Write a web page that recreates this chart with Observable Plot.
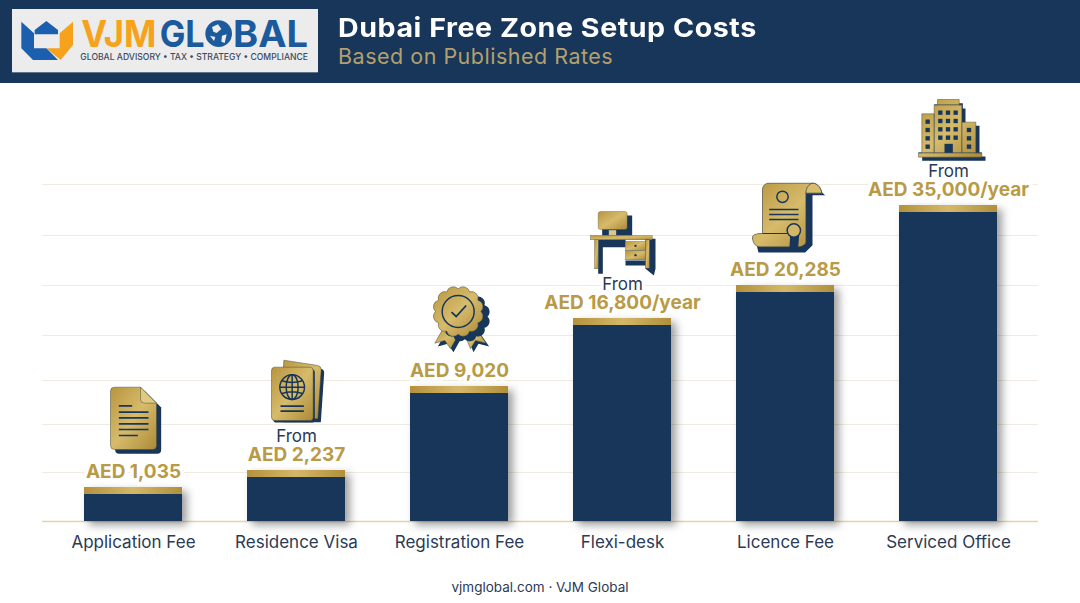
<!DOCTYPE html>
<html><head><meta charset="utf-8">
<script src="https://cdn.jsdelivr.net/npm/d3@7"></script>
<script src="https://cdn.jsdelivr.net/npm/@observablehq/plot@0.6"></script>
<style>
html,body{margin:0;padding:0;background:#fff;width:1080px;height:603px;overflow:hidden;font-family:Inter,sans-serif}
#head{position:absolute;left:0;top:0;width:1080px;height:83px;background:#17365a}
#logo{position:absolute;left:8px;top:5px}
#title{position:absolute;left:338px;top:12px;color:#fff;font:700 26px/32px Inter,sans-serif;letter-spacing:.5px;white-space:nowrap;transform:scaleX(1.1);transform-origin:left center}
#sub{position:absolute;left:338px;top:42px;color:#b3a06c;font:400 21.5px/28px Inter,sans-serif;letter-spacing:.5px;white-space:nowrap}
#chart{position:absolute;left:0;top:83px}
#cap{position:absolute;left:0;width:1080px;top:578px;text-align:center;color:#2b3a55;font:400 13.5px/18px Inter,sans-serif}
svg{display:block}
</style></head><body>
<div id="head">
<svg id="logo" width="315" height="72" viewBox="0 0 945 216">
<rect x="12" y="12" width="918" height="190" fill="#ececec"/>
<path d="M80 75L115 48L150 75V88H80Z" fill="#1c5fae"/>
<path d="M40 50L78 85V130H115L150 165H75L40 130Z" fill="#1c5fae"/>
<path d="M195 50V120L158 165L115 130H155V85Z" fill="#f6a21c"/>
<text x="220" y="125" font-family="Inter" font-weight="700" font-size="112" fill="#f6a21c" textLength="225" lengthAdjust="spacingAndGlyphs">VJM</text>
<text x="455" y="125" font-family="Inter" font-weight="700" font-size="112" fill="#1c5a9e" textLength="135" lengthAdjust="spacingAndGlyphs">GL</text>
<text x="675" y="125" font-family="Inter" font-weight="700" font-size="112" fill="#1c5a9e" textLength="225" lengthAdjust="spacingAndGlyphs">BAL</text>
<circle cx="632" cy="86" r="40" fill="#1c5a9e"/>
<path d="M612 66L630 58L640 72L626 84L616 80ZM642 92L656 88L650 114L640 110ZM606 92L622 96L618 108Z" fill="#ececec"/>
<text x="217" y="165" font-family="Inter" font-weight="500" font-size="27" fill="#3c4a60" textLength="683" lengthAdjust="spacingAndGlyphs">GLOBAL ADVISORY • TAX • STRATEGY • COMPLIANCE</text>
</svg>
<div id="title">Dubai Free Zone Setup Costs</div>
<div id="sub">Based on Published Rates</div>
</div>
<div id="chart"></div>
<div id="cap">vjmglobal.com · VJM Global</div>
<script>
const categories = ["Application Fee","Residence Visa","Registration Fee","Flexi-desk","Licence Fee","Serviced Office"];
const costs = [1035,2237,9020,16800,20285,35000];
const prefixes = ["","From","","From","","From"];
const suffixes = ["","","","/year","","/year"];
const gridCosts = [2096,5951,9706,14855,20285,29480,38860];

const navy="#17365a", text="#2b3a55", goldText="#b99a45";
// The reference's bars are not proportional to their values: its axis is compressed.
const compress = d3.scaleLinear().domain([0,...costs]).range([0,34,51,135,203,236,316]);

const grad=`<defs><linearGradient id="g" x1="0" y1="0" x2="1" y2="1"><stop offset="0" stop-color="#b8953f"/><stop offset=".5" stop-color="#d6bb6b"/><stop offset="1" stop-color="#ab8a38"/></linearGradient></defs>`;
const wrap=(w,h,body)=>"data:image/svg+xml;utf8,"+encodeURIComponent(`<svg xmlns="http://www.w3.org/2000/svg" viewBox="0 0 ${w} ${h}" width="${w}" height="${h}">${grad}${body}</svg>`);
const shape=(d,sx,sy)=>`<path d="${d}" fill="${navy}" transform="translate(${sx} ${sy})"/><path d="${d}" fill="url(#g)" stroke="#4a4a3a" stroke-width="1.5"/>`;
const L=(x1,y1,x2,y2,w=5)=>`<line x1="${x1}" y1="${y1}" x2="${x2}" y2="${y2}" stroke="${navy}" stroke-width="${w}"/>`;
const W=(x,y,s=13)=>`<rect x="${x}" y="${y}" width="${s}" height="${s}" fill="${navy}"/>`;

const docIcon=wrap(210,240,
 shape("M42 20H120L168 68V195a12 12 0 0 1-12 12H42a12 12 0 0 1-12-12V32a12 12 0 0 1 12-12Z",14,13)+
 `<path d="M120 20V56a12 12 0 0 0 12 12H168Z" fill="#e0c980" stroke="#4a4a3a" stroke-width="1.5"/>`+
 L(55,76,95,76)+L(55,95,144,95)+L(55,112,144,112)+L(55,130,144,130)+L(55,147,144,147)+L(55,165,112,165));
const passportIcon=wrap(225,225,
 shape("M70 14L172 30q10 2 10 12L172 190H60Z",9,10)+
 shape("M43 35H148a10 10 0 0 1 10 10V185a10 10 0 0 1-10 10H43a10 10 0 0 1-10-10V45a10 10 0 0 1 10-10Z",5,6)+
 `<g fill="none" stroke="${navy}" stroke-width="4.5"><circle cx="95" cy="95" r="37"/><ellipse cx="95" cy="95" rx="18" ry="37"/><path d="M95 58V132M58 95H132M64 76Q95 86 126 76M64 114Q95 104 126 114"/></g>`+
 L(60,152,130,152)+L(60,167,130,167));
const medalRosette="M166 93A20 20 0 0 0 157 59A20 20 0 0 0 132 34A20 20 0 0 0 98 25A20 20 0 0 0 64 34A20 20 0 0 0 39 59A20 20 0 0 0 30 93A20 20 0 0 0 39 127A20 20 0 0 0 64 152A20 20 0 0 0 98 161A20 20 0 0 0 132 152A20 20 0 0 0 157 127A20 20 0 0 0 166 93Z";
const medalIcon=wrap(225,240,
 shape("M55 140L28 188L58 180L75 205L100 160Z",9,10)+
 shape("M115 155L135 205L150 180L182 188L145 135Z",9,10)+
 shape(medalRosette,20,15)+
 `<circle cx="98" cy="93" r="48" fill="none" stroke="${navy}" stroke-width="4.5"/><path d="M78 95L92 108L122 75" fill="none" stroke="${navy}" stroke-width="5.5"/>`);
const deskIcon=wrap(225,225,
 `<path d="M50 30H140V90H50ZM38 100H120V125H52V205H38ZM180 100H210V190L205 210L180 190Z" fill="${navy}"/><path d="M120 165H190V180H120Z" fill="${navy}"/>`+
 `<rect x="38" y="18" width="87" height="54" rx="7" fill="url(#g)" stroke="#4a4a3a"/><rect x="70" y="74" width="22" height="16" fill="#d9c88d"/>`+
 `<rect x="15" y="90" width="185" height="13" fill="url(#g)" stroke="#4a4a3a"/><rect x="27" y="103" width="11" height="87" fill="url(#g)" stroke="#4a4a3a"/><rect x="180" y="103" width="12" height="85" fill="url(#g)" stroke="#4a4a3a"/>`+
 `<rect x="120" y="108" width="60" height="27" fill="url(#g)" stroke="#4a4a3a"/><rect x="120" y="136" width="60" height="27" fill="url(#g)" stroke="#4a4a3a"/><circle cx="150" cy="121" r="3.5" fill="${navy}"/><circle cx="150" cy="149" r="3.5" fill="${navy}"/>`);
const scrollIcon=wrap(234,234,
 `<path d="M72 24H200L230 50H192V200L170 222H30L22 190H70Z" fill="${navy}"/>`+
 shape("M62 14H192C208 14 218 30 220 44H172V190C172 198 160 205 150 205H34C20 205 12 190 12 178C12 170 18 165 42 165V34C42 22 50 14 62 14Z",0,0)+
 `<path d="M172 44C172 28 182 16 192 14C208 14 218 30 220 44Z" fill="#d9bd6d" stroke="${navy}" stroke-width="2"/>`+
 `<path d="M42 165H120" stroke="${navy}" stroke-width="3"/>`+
 `<circle cx="102" cy="55" r="17" fill="none" stroke="${navy}" stroke-width="4.5"/>`+
 L(62,93,150,93)+L(62,108,150,108)+L(62,123,150,123)+
 `<path d="M125 172L122 218L136 208L148 218L152 172Z" fill="${navy}"/><circle cx="136" cy="156" r="20" fill="#d3b766" stroke="${navy}" stroke-width="4.5"/>`);
const towerBody="M72 12H137V28H145V80H187V172H205V185H15V172H25V55H62V28H72Z";
const buildingIcon=wrap(225,210,
 shape(towerBody,11,11)+
 L(62,28,145,28,2)+L(62,55,62,172,2)+L(145,80,145,172,2)+L(15,172,205,172,2)+
 [74,97,120].flatMap(x=>[45,70,95,120].map(y=>W(x,y))).join("")+
 [72,97,122,147].map(y=>W(36,y)).join("")+[97,122,147].map(y=>W(160,y)).join("")+
 `<rect x="93" y="145" width="25" height="27" fill="${navy}"/>`);

const iconSpecs=[
 {src:docIcon,w:70,h:80,dx:2,dy:-67},
 {src:passportIcon,w:75,h:75,dx:1.5,dy:-77.5},
 {src:medalIcon,w:75,h:80,dx:3.5,dy:-66},
 {src:deskIcon,w:75,h:75,dx:.5,dy:-75.5},
 {src:scrollIcon,w:78,h:78,dx:2,dy:-68},
 {src:buildingIcon,w:75,h:70,dx:2.5,dy:-75}
];

const rows=categories.map((category,i)=>({category,cost:costs[i],prefix:prefixes[i],
  label:`AED ${d3.format(",")(costs[i])}${suffixes[i]}`}));

const defs=()=>{const d=d3.create("svg:defs");
 const g=d.append("linearGradient").attr("id","gold").attr("x1",0).attr("x2",1).attr("y1",0).attr("y2",0);
 [[0,"#b4913c"],[.5,"#d4b869"],[1,"#b08f3c"]].forEach(([o,c])=>g.append("stop").attr("offset",o).attr("stop-color",c));
 return d.node();};

const plot=Plot.plot({
 width:1080,height:487,marginTop:0,marginBottom:49,marginLeft:42,marginRight:42,
 style:{fontFamily:"Inter,sans-serif",color:text,background:"transparent",overflow:"visible"},
 x:{domain:categories,paddingInner:.4,paddingOuter:.255,label:null},
 y:{axis:null,transform:compress,domain:[0,438],range:[438,0]},
 marks:[
  defs,
  Plot.ruleY(gridCosts,{stroke:"#f0ebdf",strokeWidth:1.2}),
  Plot.ruleY([0],{stroke:"#e6d3a6",strokeWidth:1.6}),
  Plot.axisX({tickSize:0,tickPadding:14,fontSize:17,label:null,fontWeight:400,fill:text}),
  Plot.barY(rows,{x:"category",y:"cost",fill:"url(#gold)",className:"goldbar"}),
  Plot.barY(rows,{x:"category",y:"cost",fill:navy,insetTop:7}),
  Plot.text(rows,{x:"category",y:"cost",text:"label",dy:-15.5,fontSize:19,fontWeight:700,fill:goldText,stroke:"white",strokeWidth:7}),
  Plot.text(rows.filter(d=>d.prefix),{x:"category",y:"cost",text:"prefix",dy:-34,fontSize:17,fontWeight:400,fill:text,stroke:"white",strokeWidth:6}),
  ...rows.map((r,i)=>Plot.image([r],{x:"category",y:"cost",src:()=>iconSpecs[i].src,width:iconSpecs[i].w,height:iconSpecs[i].h,dx:iconSpecs[i].dx,dy:iconSpecs[i].dy}))
 ]
});
d3.select(plot).select(".goldbar").style("filter","drop-shadow(5px 4px 4px rgba(40,40,40,.45))");
document.getElementById("chart").append(plot);
</script>
</body></html>
